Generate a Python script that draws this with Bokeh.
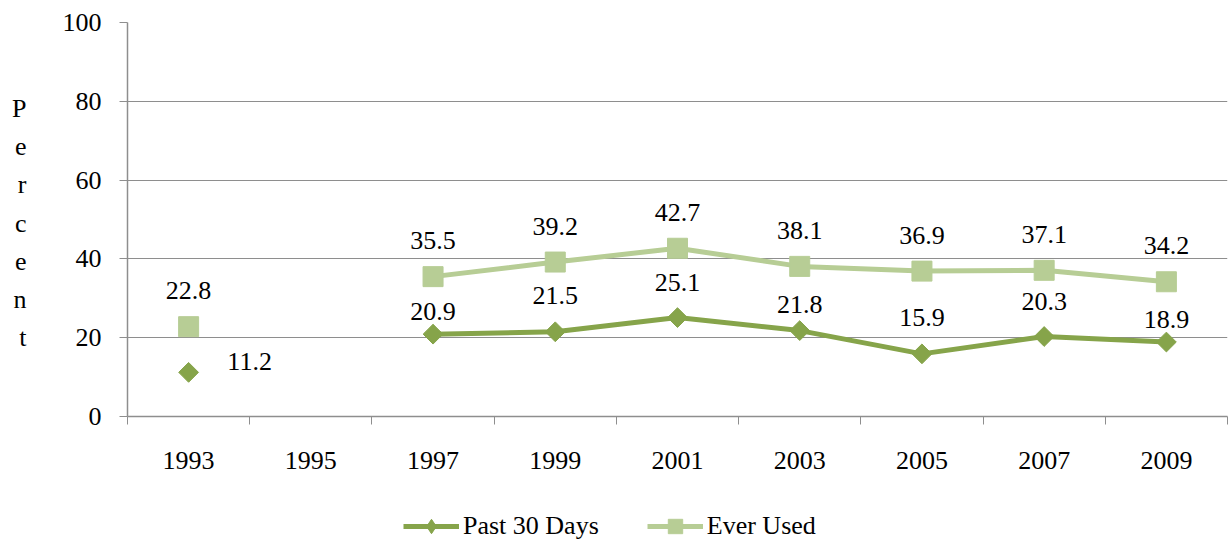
import math
from bokeh.plotting import figure
from bokeh.layouts import column
from bokeh.models import (ColumnDataSource, Range1d, FixedTicker, Legend, LegendItem, LinearAxis)
from bokeh.core.properties import value
from bokeh.embed import file_html
from bokeh.resources import INLINE

# ---- data ----
years = ["1993", "1995", "1997", "1999", "2001", "2003", "2005", "2007", "2009"]
past_30_days = [11.2, None, 20.9, 21.5, 25.1, 21.8, 15.9, 20.3, 18.9]
ever_used = [22.8, None, 35.5, 39.2, 42.7, 38.1, 36.9, 37.1, 34.2]
y_ticks = [0, 20, 40, 60, 80, 100]
y_title = "Percent"
series_names = ["Past 30 Days", "Ever Used"]

# label placement (styles, pixels)
past_label_dx = [61, 0, 0, 0, 0, 0, 0, 0, 0]
past_label_dy = [-11, 0, -23, -36, -35, -26, -36, -35, -23]
ever_label_dy = -36
title_first_px = 86      # letter position, pixels below the frame top
title_step_px = 38.2

FONT = "'Liberation Serif', 'Times New Roman', serif"
FS = "26px"
PAST_COLOR = "#86A44A"
EVER_COLOR = "#B7CD95"
GRID = "#8E8E8E"

FRAME_H = 394
xs = [i + 0.5 for i in range(len(years))]

def nanify(v):
    return [float("nan") if a is None else a for a in v]

p = figure(width=1228, height=500, output_backend="svg", toolbar_location=None,
           x_range=Range1d(0, len(years)), y_range=Range1d(0, 100),
           min_border_left=127, min_border_right=1, min_border_top=22, min_border_bottom=84)
p.outline_line_color = None
p.background_fill_color = "white"

# axes
xa = p.xaxis[0]
xa.ticker = FixedTicker(ticks=xs, minor_ticks=list(range(len(years) + 1)))
xa.major_label_overrides = {x: y for x, y in zip(xs, years)}
xa.major_tick_out = 0
xa.major_tick_in = 0
xa.minor_tick_out = 8
xa.minor_tick_in = 0
xa.minor_tick_line_color = GRID
xa.minor_tick_line_width = 1
xa.axis_line_color = GRID
xa.axis_line_width = 1.5
xa.major_label_standoff = 27
xa.major_label_text_font = FONT
xa.major_label_text_font_size = FS
xa.major_label_text_color = "black"

ya = p.yaxis[0]
ya.ticker = FixedTicker(ticks=y_ticks)
ya.major_tick_out = 8
ya.major_tick_in = 0
ya.minor_tick_line_color = None
ya.major_tick_line_color = GRID
ya.axis_line_color = GRID
ya.axis_line_width = 1.5
ya.major_label_standoff = 18
ya.major_label_text_font = FONT
ya.major_label_text_font_size = FS
ya.major_label_text_color = "black"

# stacked, upright y title as a label-only axis
p.extra_y_ranges = {"title": Range1d(start=FRAME_H, end=0)}
title_pos = [title_first_px + k * title_step_px for k in range(len(y_title))]
ta = LinearAxis(y_range_name="title", ticker=FixedTicker(ticks=title_pos),
                major_label_overrides={t: ch for t, ch in zip(title_pos, y_title)},
                axis_line_color=None, major_tick_line_color=None, minor_tick_line_color=None,
                major_label_standoff=27, major_label_text_font=FONT,
                major_label_text_font_size=FS, major_label_text_color="black")
p.add_layout(ta, "left")

p.xgrid.grid_line_color = None
p.ygrid.ticker = FixedTicker(ticks=y_ticks)
p.ygrid.grid_line_color = GRID
p.ygrid.grid_line_width = 1.2

# series
src = ColumnDataSource(dict(x=xs, past=nanify(past_30_days), ever=nanify(ever_used)))
p.line("x", "ever", source=src, line_color=EVER_COLOR, line_width=5)
p.scatter("x", "ever", source=src, marker="square", size=20,
          fill_color=EVER_COLOR, line_color=EVER_COLOR)
p.line("x", "past", source=src, line_color=PAST_COLOR, line_width=5)
p.scatter("x", "past", source=src, marker="square", angle=math.pi / 4, size=14,
          fill_color=PAST_COLOR, line_color=PAST_COLOR)

# data labels
pl = dict(x=[], y=[], t=[], dx=[], dy=[])
el = dict(x=[], y=[], t=[], dy=[])
for i, x in enumerate(xs):
    if past_30_days[i] is not None:
        pl["x"].append(x); pl["y"].append(past_30_days[i]); pl["t"].append(f"{past_30_days[i]:.1f}")
        pl["dx"].append(past_label_dx[i]); pl["dy"].append(past_label_dy[i])
    if ever_used[i] is not None:
        el["x"].append(x); el["y"].append(ever_used[i]); el["t"].append(f"{ever_used[i]:.1f}")
        el["dy"].append(ever_label_dy)
p.text("x", "y", text="t", source=ColumnDataSource(pl), x_offset="dx", y_offset="dy",
       text_align="center", text_baseline="middle", text_font=value(FONT),
       text_font_size=FS, text_color="black")
p.text("x", "y", text="t", source=ColumnDataSource(el), y_offset="dy",
       text_align="center", text_baseline="middle", text_font=value(FONT),
       text_font_size=FS, text_color="black")

# legend strip below the chart (proxy renderers hold no visible points)
leg = figure(width=1228, height=44, output_backend="svg", toolbar_location=None,
             x_range=Range1d(0, 1), y_range=Range1d(0, 1), x_axis_type=None, y_axis_type=None,
             min_border_left=0, min_border_right=0, min_border_top=0, min_border_bottom=0)
leg.outline_line_color = None
leg.xgrid.visible = False
leg.ygrid.visible = False
proxy = ColumnDataSource(dict(x=[float("nan")], y=[float("nan")]))
lp = leg.line("x", "y", source=proxy, line_color=PAST_COLOR, line_width=5)
sp = leg.scatter("x", "y", source=proxy, marker="diamond",
                 fill_color=PAST_COLOR, line_color=PAST_COLOR)
le = leg.line("x", "y", source=proxy, line_color=EVER_COLOR, line_width=5)
se = leg.scatter("x", "y", source=proxy, marker="square",
                 fill_color=EVER_COLOR, line_color=EVER_COLOR)
legend = Legend(items=[LegendItem(label=series_names[0], renderers=[lp, sp]),
                       LegendItem(label=series_names[1], renderers=[le, se])],
                location=(276, 0), orientation="horizontal",
                glyph_width=56, glyph_height=36, label_standoff=4, spacing=48,
                padding=0, margin=0, border_line_color=None, background_fill_alpha=0,
                label_text_font=FONT, label_text_font_size=FS, label_text_color="black")
leg.add_layout(legend)

open("out.html", "w").write(file_html(column(p, leg), INLINE))
